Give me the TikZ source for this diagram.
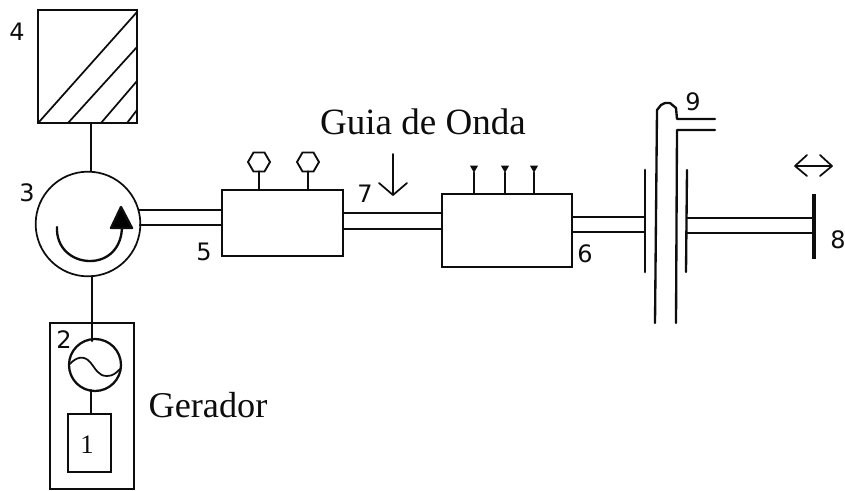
\documentclass[tikz,border=0pt]{standalone}
\usepackage{fontspec}
\setmainfont{Liberation Serif}
\newfontfamily\handfont{DejaVu Sans}
\usetikzlibrary{shapes.geometric,calc}
\definecolor{ink}{gray}{0.05}
\tikzset{
  x=0.75pt,y=-0.75pt,
  ink/.style={draw=ink,line width=1.75pt,line cap=round,line join=round},
  thin ink/.style={draw=ink,line width=1.3pt,line cap=round,line join=round},
  block/.style={draw=ink,line width=1.7pt,rectangle,inner sep=0pt,outer sep=0pt,anchor=north west},
  numlabel/.style={font=\handfont\fontsize{18}{18}\selectfont,text=ink,inner sep=0pt},
  caption/.style={font=\fontsize{27.8}{30}\selectfont,text=ink,inner sep=0pt},
  hexhead/.style={draw=ink,line width=1.4pt,regular polygon,regular polygon sides=6,minimum size=16.5pt,inner sep=0pt,outer sep=0pt},
  pinhead/.style={fill=ink,regular polygon,regular polygon sides=3,shape border rotate=180,minimum size=7pt,inner sep=0pt,outer sep=0pt},
}
\begin{document}
\begin{tikzpicture}
\useasboundingbox (0,0) rectangle (845,490);
% blocks
\node[block,minimum width=74.25pt,minimum height=84.75pt] (load) at (38,10) {};
\node[draw=ink,line width=1.3pt,circle,minimum size=78.5pt,inner sep=0pt,outer sep=0pt] (circ) at (88,224) {};
\node[block,minimum width=90.75pt,minimum height=49.5pt] (tuner) at (222,190) {};
\node[block,minimum width=97.5pt,minimum height=54.75pt] (filt) at (442,194) {};
\node[block,minimum width=63pt,minimum height=124.5pt] (genbox) at (50,323) {};
\node[draw=ink,line width=1.7pt,circle,minimum size=39pt,inner sep=0pt,outer sep=0pt] (osc) at (95,365) {};
\node[block,line width=1.5pt,minimum width=32.25pt,minimum height=43.5pt] (src) at (68,414) {};
% hatch in load
\coordinate (h1a) at (39,122); \coordinate (h1b) at (137,12);
\coordinate (h2a) at (68,123); \coordinate (h2b) at (137,47);
\coordinate (h3a) at (101,123); \coordinate (h3b) at (137,81);
\coordinate (h4a) at (127,123); \coordinate (h4b) at (137,110);
\draw[thin ink] (h1a)--(h1b) (h2a)--(h2b) (h3a)--(h3b) (h4a)--(h4b);
% vertical links
\draw[thin ink] (91,123) coordinate (l1) -- (l1 |- circ.north);
\draw[ink] (92,276) coordinate (l2) -- (92,341) coordinate (l2b);
\draw[ink] (91,390) coordinate (l3) -- (l3 |- src.north);
% circulator arrow
\coordinate (arcstart) at (57,227);
\coordinate (arcend) at (122,226);
\draw[ink] (arcstart) .. controls (56,248) and (72,261) .. (90,261) .. controls (108,261) and (122,248) .. (arcend);
\coordinate (tria) at (121,207); \coordinate (trib) at (111,228); \coordinate (tric) at (132,228);
\fill[ink] (tria)--(trib)--(tric)--cycle;
% oscillator sine
\draw[thin ink] (70,364) .. controls (76,357) and (84,355) .. (90,362) .. controls (96,369) and (98,376) .. (107,376) .. controls (113,376) and (116,373) .. (120,369);
% waveguides
\coordinate (wa) at (139,210); \coordinate (wb) at (140,225);
\draw[ink] (wa) -- (wa -| tuner.west) (wb) -- (wb -| tuner.west);
\coordinate (wc) at (343,213); \coordinate (wd) at (343,229);
\draw[ink] (wc) -- (wc -| filt.west) (wd) -- (wd -| filt.west);
\coordinate (we) at (572,217); \coordinate (wf) at (572,232);
\coordinate (fl1) at (645,170); \coordinate (fl2) at (645,272);
\draw[ink] (we) -- (we -| fl1) (wf) -- (wf -| fl1);
\draw[ink,line width=2.1pt] (fl1) -- (fl2);
\coordinate (fr1) at (687,170); \coordinate (fr2) at (686,272);
\draw[ink] (fr1) -- (fr2);
\coordinate (pl1) at (814,194); \coordinate (pl2) at (814,259);
\draw[ink] (687,218) coordinate (wg) -- (wg -| pl1) (687,233) coordinate (wh) -- (wh -| pl1);
\draw[draw=ink,line width=3.4pt] (pl1) -- (pl2);
% vertical tube
\coordinate (t1) at (655,323); \coordinate (t2) at (676,323);
\draw[ink] (t1) -- (657,110) -- (661,105) -- (665,103) -- (670,103) -- (676,108) -- (677,119) -- (715,119);
\draw[ink] (t2) -- (677,130) -- (715,130);
% tuning stubs
\node[hexhead] (hx1) at (259,162) {};
\node[hexhead] (hx2) at (308,162) {};
\draw[ink] (hx1.south) -- (hx1.south |- tuner.north);
\draw[ink] (hx2.south) -- (hx2.south |- tuner.north);
\node[pinhead] (p1) at (474,168) {};
\node[pinhead] (p2) at (505,168) {};
\node[pinhead] (p3) at (534,168) {};
\draw[ink] (p1) -- (p1 |- filt.north);
\draw[ink] (p2) -- (p2 |- filt.north);
\draw[ink] (p3) -- (p3 |- filt.north);
% guide arrow
\coordinate (ga) at (393,154); \coordinate (gb) at (393,195);
\draw[thin ink] (ga) -- (gb) (379,183) -- (gb) -- (407,183);
% double arrow
\coordinate (da) at (795,166); \coordinate (db) at (832,166);
\draw[thin ink] (da) -- (db) (807,155) -- (da) -- (807,176) (820,155) -- (db) -- (820,176);
% labels
\node[caption] (guia) at (423,122) {Guia de Onda};
\node[caption,font=\fontsize{27.2}{30}\selectfont] (ger) at (208,405) {Gerador};
\node[numlabel] (n4) at (17,32) {4};
\node[numlabel] (n3) at (27,193) {3};
\node[numlabel] (n5) at (204,252) {5};
\node[numlabel] (n7) at (365,194) {7};
\node[numlabel] (n6) at (585,254) {6};
\node[numlabel] (n9) at (693,102) {9};
\node[numlabel] (n8) at (838,240) {8};
\node[numlabel] (n2) at (64,340) {2};
\node[numlabel,font=\fontsize{20}{20}\selectfont] (n1) at (87,445) {1};
\end{tikzpicture}
\end{document}
